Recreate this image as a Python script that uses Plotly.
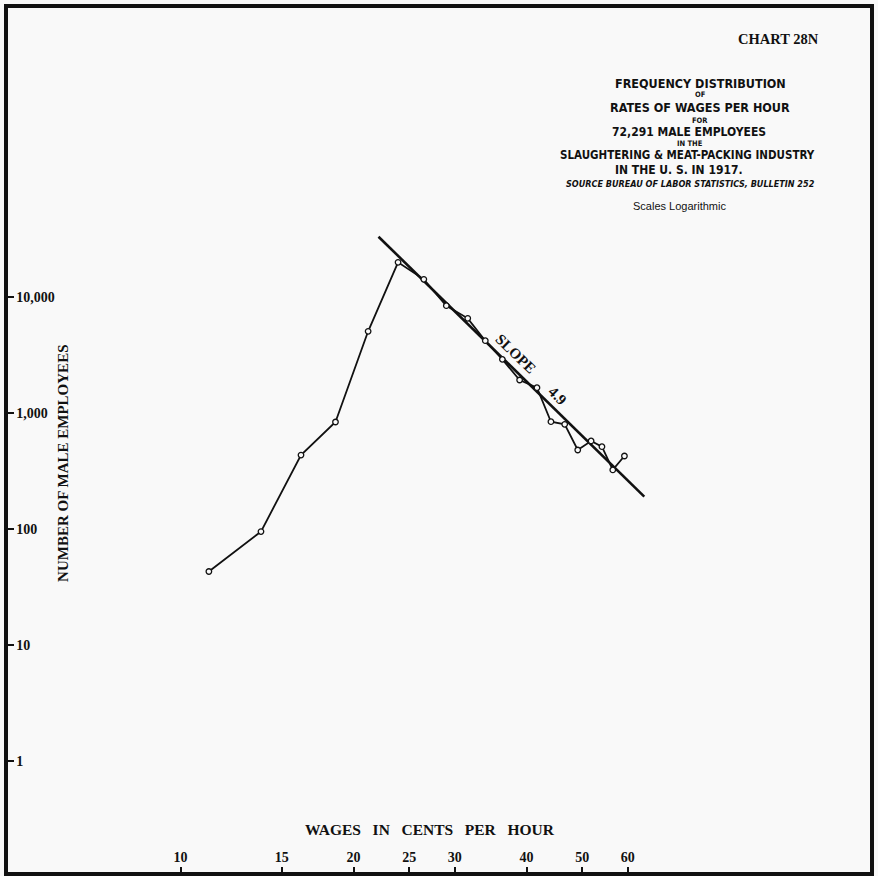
import math
import plotly.graph_objects as go

# ---- data ----
wage_cents = [11.2, 13.8, 16.2, 18.6, 21.2, 23.9, 26.5, 29.0, 31.6, 33.9,
              36.3, 38.9, 41.7, 44.1, 46.6, 49.1, 51.8, 54.1, 56.5, 59.2]
employees = [43, 95, 434, 836, 5060, 19900, 14200, 8410, 6550, 4200,
             2900, 1925, 1652, 841, 799, 480, 574, 512, 323, 426]
fit_wage = [22.1, 64.1]
fit_employees = [33100, 190]
slope_value = "4.9"

x_tickvals = [10, 15, 20, 25, 30, 40, 50, 60]
x_ticktext = ["10", "15", "20", "25", "30", "40", "50", "60"]
y_tickvals = [1, 10, 100, 1000, 10000]
y_ticktext = ["1", "10", "100", "1,000", "10,000"]

title_lines = [
    ("FREQUENCY DISTRIBUTION", 702, 84, 12.5, "b"),
    ("OF", 702, 95, 7.5, "b"),
    ("RATES OF WAGES PER HOUR", 702, 108, 12.5, "b"),
    ("FOR", 702, 120, 7.5, "b"),
    ("72,291 MALE EMPLOYEES", 691, 132, 12, "b"),
    ("IN THE", 692, 143, 7.5, "b"),
    ("SLAUGHTERING &amp; MEAT-PACKING INDUSTRY", 689, 155, 11.5, "b"),
    ("IN THE U. S. IN 1917.", 681, 170, 12, "b"),
    ("SOURCE BUREAU OF LABOR STATISTICS, BULLETIN 252", 692, 184, 9, "i"),
    ("Scales Logarithmic", 681, 206, 11, "n"),
]

W, H = 878, 876
ML, MR, MT, MB = 8, 6, 8, 4
PW, PH = W - ML - MR, H - MT - MB

def px(x):
    return (x - ML) / PW

def py(y):
    return (H - MB - y) / PH

SERIF = "Liberation Serif, Times New Roman, serif"
SANS = "Liberation Sans Narrow, DejaVu Sans Condensed, Arial Narrow, sans-serif"

fig = go.Figure()
fig.add_trace(go.Scatter(
    x=fit_wage, y=fit_employees, mode="lines",
    line=dict(color="#111", width=2.6), hoverinfo="skip", showlegend=False))
fig.add_trace(go.Scatter(
    x=wage_cents, y=employees, mode="lines+markers",
    line=dict(color="#111", width=1.8),
    marker=dict(symbol="circle", size=5.5, color="#fafafa",
                line=dict(color="#111", width=1.3)),
    showlegend=False))

ann = []
for text, x, y, size, style in title_lines:
    t = text
    if style == "b":
        t = "<b>" + text + "</b>"
    elif style == "i":
        t = "<b><i>" + text + "</i></b>"
    ann.append(dict(text=t, x=px(x), y=py(y), xref="paper", yref="paper",
                    showarrow=False, xanchor="center", yanchor="middle",
                    font=dict(family=SANS if style != "n" else "Liberation Sans, Arial, sans-serif",
                              size=size, color="#111")))

ann.append(dict(text="<b>CHART 28N</b>", x=px(823), y=py(29), xref="paper", yref="paper",
                showarrow=False, font=dict(family=SERIF, size=14.5, color="#111")))
ann.append(dict(text="<b>WAGES\u00a0\u00a0\u00a0IN\u00a0\u00a0\u00a0CENTS\u00a0\u00a0\u00a0PER\u00a0\u00a0\u00a0HOUR</b>",
                x=px(431), y=py(840), xref="paper", yref="paper",
                showarrow=False, font=dict(family=SERIF, size=15.5, color="#111")))
ann.append(dict(text="<b>NUMBER OF MALE EMPLOYEES</b>", x=px(53), y=py(463),
                xref="paper", yref="paper", textangle=-90,
                showarrow=False, font=dict(family=SERIF, size=15, color="#111")))
ann.append(dict(text="<b>SLOPE</b>", x=px(517), y=py(354), xref="paper", yref="paper",
                textangle=44, showarrow=False,
                font=dict(family=SERIF, size=15, color="#111")))
ann.append(dict(text="<b>" + slope_value + "</b>", x=px(559), y=py(396), xref="paper", yref="paper",
                textangle=44, showarrow=False,
                font=dict(family=SERIF, size=15, color="#111")))

x_left = 1 + (ML - 181) / 576
x_right = 1 + (W - MR - 181) / 576
y_top = (761 - MT) / 116
y_bot = (761 - (H - MB)) / 116

fig.update_layout(
    width=W, height=H,
    margin=dict(l=ML, r=MR, t=MT, b=MB, pad=0),
    paper_bgcolor="#f9f9f9", plot_bgcolor="#f9f9f9",
    annotations=ann,
    xaxis=dict(type="log", range=[x_left, x_right],
               tickvals=x_tickvals, ticktext=x_ticktext,
               ticks="inside", ticklen=5, tickwidth=2, tickcolor="#111",
               ticklabelposition="inside", ticklabelstandoff=2,
               tickfont=dict(family=SERIF, size=14, color="#111", weight="bold"),
               showgrid=False, zeroline=False,
               showline=True, linewidth=4, linecolor="#111", mirror=True),
    yaxis=dict(type="log", range=[y_bot, y_top],
               tickvals=y_tickvals, ticktext=y_ticktext,
               ticks="inside", ticklen=6, tickwidth=2, tickcolor="#111",
               ticklabelposition="inside", ticklabelstandoff=2,
               tickfont=dict(family=SERIF, size=14, color="#111", weight="bold"),
               showgrid=False, zeroline=False,
               showline=True, linewidth=4, linecolor="#111", mirror=True),
)

fig.write_html("out.html")
